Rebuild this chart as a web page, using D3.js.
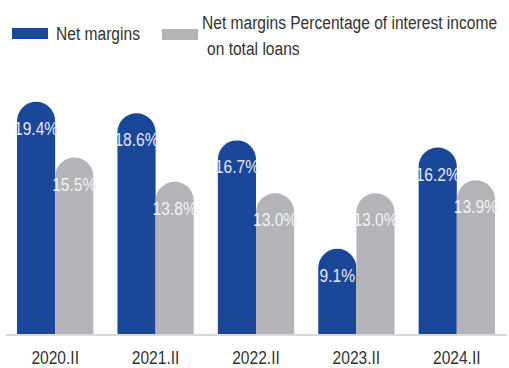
<!DOCTYPE html>
<html lang="en">
<head>
  <meta charset="UTF-8">
  <title>Net margins</title>
  <script src="https://d3js.org/d3.v7.min.js"></script>
  <style>
    body { margin: 0; background: #fff; }
    svg { display: block; }
    text { font-family: "Liberation Sans", Arial, sans-serif; }
  </style>
</head>
<body>
  <div id="chart"></div>
  <script>
    // data
    const periods = ["2020.II", "2021.II", "2022.II", "2023.II", "2024.II"];
    const seriesNames = ["Net margins", "Net margins Percentage of interest income", "on total loans"];
    const netMargins = [19.4, 18.6, 16.7, 9.1, 16.2];
    const interestShare = [15.5, 13.8, 13.0, 13.0, 13.9];
    const colors = ["#1a4799", "#b3b4b7"];

    const width = 509, height = 368;
    const baseY = 334;
    const squeeze = 0.82; // condensed look of the original type

    const svg = d3.select("#chart").append("svg")
      .attr("width", width)
      .attr("height", height);

    const x0 = d3.scaleBand()
      .domain(periods)
      .range([5, 507])
      .paddingInner(0.24)
      .paddingOuter(0.12);

    const x1 = d3.scaleBand()
      .domain([0, 1])
      .range([0, x0.bandwidth()]);

    // the original is not drawn from zero, so the domain starts above 0
    const y = d3.scaleLinear()
      .domain([3.13, 20])
      .range([baseY, 93.3]);

    const rows = periods.map((p, i) => ({
      period: p,
      values: [netMargins[i], interestShare[i]]
    }));

    const barPath = (x, top, w) => {
      const r = w / 2;
      return `M${x},${baseY}L${x},${top + r}A${r},${r} 0 0 1 ${x + w},${top + r}L${x + w},${baseY}Z`;
    };

    // text helper: condensed text placed at (x, y)
    const narrowText = (parent, x, yy, str, opts = {}) => {
      const g = parent.append("g")
        .attr("transform", `translate(${x},${yy}) scale(${squeeze},1)`);
      return g.append("text")
        .attr("text-anchor", opts.anchor || "start")
        .attr("font-size", opts.size || 19)
        .attr("fill", opts.fill || "#333")
        .text(str);
    };

    const groups = svg.selectAll(".group")
      .data(rows)
      .enter()
      .append("g")
      .attr("class", "group")
      .attr("transform", d => `translate(${x0(d.period)},0)`);

    groups.each(function (d) {
      const g = d3.select(this);
      d.values.forEach((v, k) => {
        g.append("path")
          .attr("fill", colors[k])
          .attr("d", barPath(x1(k), y(v), x1.bandwidth()));
        narrowText(g, x1(k) + x1.bandwidth() / 2, y(v) + 33, v.toFixed(1) + "%", {
          anchor: "middle",
          fill: k === 0 ? "#e4e8f2" : "#f2f2f2"
        });
      });
    });

    // baseline
    svg.append("line")
      .attr("x1", 6).attr("x2", 507)
      .attr("y1", baseY + 1).attr("y2", baseY + 1)
      .attr("stroke", "#d9d9d9")
      .attr("stroke-width", 2);

    // x axis labels
    const xAxis = d3.axisBottom(x0).tickSize(0).tickPadding(17);
    const gx = svg.append("g")
      .attr("transform", `translate(0,${baseY})`)
      .call(xAxis);
    gx.select(".domain").remove();
    gx.selectAll("text")
      .attr("font-size", 19)
      .attr("font-family", null)
      .attr("fill", "#333")
      .attr("transform", `scale(${squeeze},1)`)
      .attr("x", 0);
    gx.selectAll(".tick text").attr("dy", "0.71em");

    // legend
    const legend = svg.append("g");
    legend.append("rect")
      .attr("x", 12).attr("y", 28).attr("width", 36).attr("height", 11)
      .attr("fill", colors[0]);
    narrowText(legend, 56, 40, seriesNames[0]);
    legend.append("rect")
      .attr("x", 162).attr("y", 29).attr("width", 36).attr("height", 11)
      .attr("fill", colors[1]);
    narrowText(legend, 202, 29, seriesNames[1]);
    narrowText(legend, 207, 55, seriesNames[2]);
  </script>
</body>
</html>
